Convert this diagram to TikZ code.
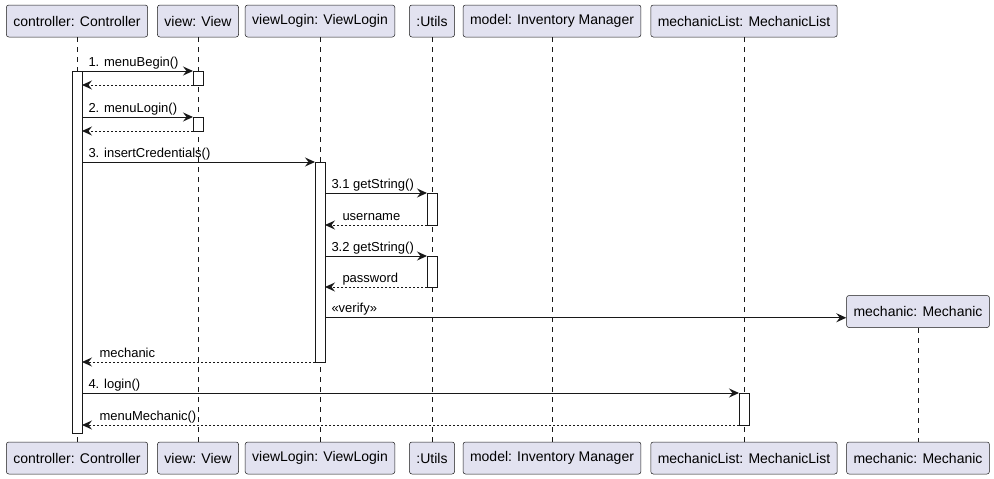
\documentclass[tikz,border=0pt]{standalone}
\usepackage{fontspec}
\setmainfont{Liberation Sans}
\usetikzlibrary{arrows.meta}
\definecolor{boxfill}{HTML}{E2E2F0}
\definecolor{linec}{HTML}{181818}
\tikzset{
  part/.style={draw=linec, line width=0.5pt, fill=boxfill, rounded corners=2.5pt,
    minimum height=32pt, inner xsep=7pt, font=\fontsize{14}{16}\selectfont},
  life/.style={draw=linec, line width=0.5pt, dash pattern=on 5pt off 5pt},
  act/.style={draw=linec, line width=1pt, fill=white, minimum width=10pt,
    inner sep=0pt, outer sep=0pt},
  call/.style={draw=linec, line width=1pt, -{Stealth[length=10pt,width=9pt,inset=3.5pt]}},
  reply/.style={call, dash pattern=on 2pt off 2pt},
  msglbl/.style={anchor=base west, yshift=5pt, xshift=6pt, inner sep=0pt,
    font=\fontsize{13}{15}\selectfont},
  retlbl/.style={msglbl, xshift=11pt}
}
\begin{document}
\begin{tikzpicture}[x=1pt, y=-1pt]
      \useasboundingbox (0,0) rectangle (994,479);
      \draw
        (77,21) node[part] (ctrl){controller: Controller}
        (198,21) node[part] (view){view: View}
        (320,21) node[part] (vlogin){viewLogin: ViewLogin}
        (432,21) node[part] (utils){:Utils}
        (552,21) node[part] (model){model: Inventory Manager}
        (744,21) node[part] (mlist){mechanicList: MechanicList}
        (918,311.5) node[part] (mech){mechanic: Mechanic};
      \draw
        (77,458) node[part] (ctrlB){controller: Controller}
        (198,458) node[part] (viewB){view: View}
        (320,458) node[part] (vloginB){viewLogin: ViewLogin}
        (432,458) node[part] (utilsB){:Utils}
        (552,458) node[part] (modelB){model: Inventory Manager}
        (744,458) node[part] (mlistB){mechanicList: MechanicList}
        (918,458) node[part] (mechB){mechanic: Mechanic};
      \begin{scope}[life]
        \draw (ctrl) to (ctrlB);
        \draw (view) to (viewB);
        \draw (vlogin) to (vloginB);
        \draw (utils) to (utilsB);
        \draw (model) to (modelB);
        \draw (mlist) to (mlistB);
        \draw (mech) to (mechB);
      \end{scope}
      \node[act, minimum height=362pt] (ctrlA) at (77,252) {};
      \node[act, minimum height=14pt] (viewA1) at (198,78) {};
      \node[act, minimum height=14pt] (viewA2) at (198,124) {};
      \node[act, minimum height=200pt] (vloginA) at (320,262) {};
      \node[act, minimum height=32pt] (utilsA1) at (432,209) {};
      \node[act, minimum height=31pt] (utilsA2) at (432,271.5) {};
      \node[act, minimum height=32pt] (mlistA) at (744,409) {};
      \coordinate (verify) at ([yshift=10pt]mech.south west);
      \draw[call] (ctrlA.east |- viewA1.north) -- (viewA1.north west)
        node[pos=0, msglbl] {1. menuBegin()};
      \draw[reply] (viewA1.south west) -- (ctrlA.east |- viewA1.south west);
      \draw[call] (ctrlA.east |- viewA2.north) -- (viewA2.north west)
        node[pos=0, msglbl] {2. menuLogin()};
      \draw[reply] (viewA2.south west) -- (ctrlA.east |- viewA2.south west);
      \draw[call] (ctrlA.east |- vloginA.north) -- (vloginA.north west)
        node[pos=0, msglbl] {3. insertCredentials()};
      \draw[call] (vloginA.east |- utilsA1.north) -- (utilsA1.north west)
        node[pos=0, msglbl] {3.1 getString()};
      \draw[reply] (utilsA1.south west) -- (vloginA.east |- utilsA1.south west)
        node[pos=1, retlbl] {username};
      \draw[call] (vloginA.east |- utilsA2.north) -- (utilsA2.north west)
        node[pos=0, msglbl] {3.2 getString()};
      \draw[reply] (utilsA2.south west) -- (vloginA.east |- utilsA2.south west)
        node[pos=1, retlbl] {password};
      \draw[call] (vloginA.east |- verify) -- (verify)
        node[pos=0, msglbl] {«verify»};
      \draw[reply] (vloginA.south west) -- (ctrlA.east |- vloginA.south west)
        node[pos=1, retlbl] {mechanic};
      \draw[call] (ctrlA.east |- mlistA.north) -- (mlistA.north west)
        node[pos=0, msglbl] {4. login()};
      \draw[reply] (mlistA.south west) -- (ctrlA.east |- mlistA.south west)
        node[pos=1, retlbl] {menuMechanic()};
    \end{tikzpicture}
\end{document}
